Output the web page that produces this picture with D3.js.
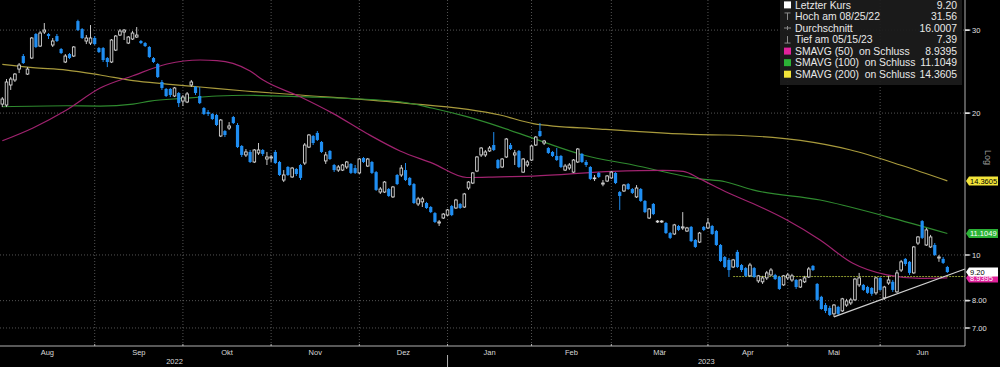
<!DOCTYPE html>
<html>
<head>
<meta charset="utf-8">
<script src="https://cdn.jsdelivr.net/npm/d3@7"></script>
<style>
html, body { margin: 0; padding: 0; background: #000; }
svg { display: block; font-family: "Liberation Sans", Arial, sans-serif; }
</style>
</head>
<body>
<svg id="chart"></svg>
<script>
// daily candles, trading day index 0 = first bar on the left
let opens = [20.90,20.80,22.94,23.51,24.80,26.43,24.20,26.17,29.43,27.75,29.72,29.43,27.89,29.14,27.35,25.67,26.69,26.43,31.35,30.15,
28.44,28.16,28.86,27.48,27.48,26.17,25.67,27.21,29.28,29.72,28.16,28.72,29.00,28.44,28.16,27.62,26.17,25.42,23.28,22.50,
22.50,21.74,22.06,21.21,21.11,22.94,22.72,21.74,20.50,20.10,19.91,19.81,17.88,18.32,18.59,19.62,18.87,17.03,16.30,16.54,
15.75,16.46,16.70,15.98,16.06,16.54,15.75,14.42,15.37,14.64,15.22,15.52,15.67,16.94,17.88,18.15,17.37,15.83,16.62,15.52,
15.14,15.14,15.37,15.60,15.29,14.93,16.06,15.44,15.75,14.99,13.60,13.60,13.80,13.28,14.78,14.78,15.14,14.57,14.14,12.83,
12.96,12.89,12.64,12.27,11.69,11.98,12.15,12.70,12.58,12.83,12.64,13.87,14.21,15.07,16.30,16.30,16.62,17.11,15.90,15.37,
16.14,17.11,16.30,16.62,14.99,15.52,15.90,17.11,18.32,17.28,16.86,16.54,16.22,16.22,15.14,15.29,14.99,15.75,16.38,15.75,
15.37,14.53,14.93,14.14,14.35,14.57,14.93,13.60,13.67,14.14,13.80,13.28,13.80,13.02,11.98,12.83,11.75,11.75,11.69,11.13,
11.08,11.52,11.41,11.24,11.47,10.76,10.65,11.47,11.41,11.52,11.24,10.50,9.90,9.76,9.43,10.15,9.52,9.38,9.03,9.38,
8.81,8.77,8.94,9.07,9.07,8.98,8.64,8.94,8.85,8.85,8.55,8.77,8.98,9.48,8.68,8.15,7.83,7.72,7.50,7.76,
7.61,7.83,7.91,8.03,8.64,8.64,8.55,8.51,8.31,8.94,8.11,8.72,8.77,8.35,9.29,9.81,9.67,9.16,10.60,11.80,
10.50,10.40,10.50,9.85,9.81,9.43];
let highs = [21.63,23.62,23.85,24.32,25.54,26.69,25.04,29.00,29.57,29.86,31.05,29.57,28.86,29.43,27.48,26.69,26.82,27.75,31.56,30.30,
29.28,30.75,29.14,27.62,27.62,26.30,28.72,29.28,30.15,30.15,29.14,29.86,30.45,28.58,28.30,27.75,26.30,25.54,23.51,22.61,
22.61,22.72,22.17,21.85,22.17,23.51,22.83,22.72,20.60,20.30,20.00,19.91,19.43,18.41,19.14,19.72,19.05,17.11,16.78,16.70,
16.78,17.28,16.78,16.54,16.30,16.70,15.83,15.14,15.44,15.37,15.29,15.60,17.28,18.06,17.97,18.32,17.45,16.54,16.70,15.60,
15.52,15.60,15.83,15.67,15.52,16.06,16.14,16.06,15.83,15.07,13.94,14.35,13.87,14.01,14.85,15.52,15.67,14.64,14.21,13.28,
13.28,12.96,12.70,12.33,11.86,12.27,12.52,12.77,13.15,12.89,13.54,14.35,14.99,16.22,16.94,16.70,17.03,18.23,15.98,16.06,
17.71,17.28,16.70,16.70,16.06,15.90,17.11,17.88,19.05,17.54,16.94,16.62,16.86,16.30,15.60,15.67,15.98,16.86,16.46,15.90,
15.44,14.78,14.99,14.42,14.78,15.07,14.99,13.67,14.14,14.21,13.87,14.07,13.87,13.08,12.58,12.89,11.86,11.86,11.75,11.19,
11.64,11.58,12.33,11.47,11.52,10.81,11.19,11.52,11.98,11.58,11.30,10.55,9.95,9.85,9.81,10.25,9.57,9.43,9.62,9.43,
9.07,9.03,9.25,9.38,9.12,9.03,9.07,9.16,9.12,8.89,8.89,9.03,9.43,9.52,8.72,8.19,7.91,7.80,7.87,7.80,
8.11,8.07,8.11,8.94,9.16,8.68,8.60,8.55,8.98,8.98,8.60,9.03,8.85,9.29,9.76,9.85,9.71,10.45,10.97,11.86,
11.41,11.03,10.60,10.00,9.90,9.48];
let lows = [20.60,20.60,22.39,23.28,24.32,25.42,24.09,26.04,27.48,27.62,29.43,28.72,27.62,28.30,26.69,25.54,26.04,26.30,29.86,28.72,
28.02,27.89,27.89,26.82,25.67,25.04,25.54,27.08,29.14,28.58,28.02,28.58,28.86,28.02,27.62,26.17,25.54,23.74,22.39,21.63,
21.63,21.63,20.60,20.70,21.00,22.72,21.85,20.90,19.81,19.72,19.33,18.77,17.79,17.79,18.41,18.96,16.86,16.14,16.14,15.67,
15.67,16.30,16.22,15.52,15.75,15.60,14.71,14.28,14.71,14.57,14.71,14.42,15.52,16.86,17.11,17.45,16.46,15.60,15.90,15.00,
15.00,15.07,15.22,14.85,14.85,14.85,15.67,15.37,14.85,13.67,13.47,13.54,13.28,13.21,14.07,14.64,14.35,14.01,12.83,12.70,
12.64,12.52,12.27,11.69,11.52,11.92,12.09,12.09,12.52,12.52,12.58,13.74,14.14,14.99,16.14,16.14,16.54,16.62,15.22,15.29,
16.06,16.70,15.52,15.29,14.93,15.37,15.83,17.03,17.79,17.11,16.38,16.14,15.83,15.29,15.07,15.14,14.93,15.67,15.67,15.37,
14.42,14.35,14.57,13.99,14.28,14.50,14.14,12.46,13.60,13.74,13.47,13.21,12.96,12.27,11.92,12.15,11.69,11.69,11.08,10.81,
11.03,11.24,11.30,11.19,10.65,10.35,10.60,11.24,11.35,11.03,10.45,9.66,9.38,8.98,9.38,9.38,9.20,8.98,8.98,8.94,
8.72,8.68,8.85,9.03,8.85,8.43,8.60,8.85,8.77,8.47,8.51,8.72,8.94,9.25,7.99,7.65,7.53,7.42,7.39,7.46,
7.57,7.76,7.83,7.99,8.55,8.39,8.27,8.19,8.23,8.39,8.03,8.64,8.35,8.31,9.20,9.48,9.07,9.12,10.50,10.81,
10.45,10.35,9.95,9.67,9.57,9.16];
let closes = [21.42,23.28,23.62,24.20,25.29,25.54,24.80,28.86,27.62,29.57,30.00,29.14,28.44,28.44,26.82,26.43,26.17,27.62,30.00,28.86,
28.86,28.86,28.02,26.95,25.92,25.67,28.58,29.14,29.86,30.00,29.00,29.57,29.28,28.16,27.75,26.30,25.67,23.85,22.61,21.74,
21.85,22.61,21.00,21.63,21.96,23.28,22.06,21.00,19.91,19.91,19.43,18.87,19.33,17.97,18.78,19.05,16.94,16.30,16.54,15.75,
16.70,16.70,16.38,16.14,16.14,15.67,14.78,14.78,14.78,15.29,14.85,14.57,17.11,17.97,17.28,17.54,16.54,16.30,15.98,15.14,
15.37,15.52,15.75,14.93,14.93,15.98,15.75,15.98,14.93,13.74,13.80,14.28,13.34,13.94,14.14,15.29,14.42,14.07,12.89,13.15,
13.15,12.58,12.33,11.75,11.75,12.21,12.46,12.15,13.08,12.58,13.47,14.28,14.93,16.14,16.86,16.54,16.86,16.70,15.29,15.98,
17.62,16.78,16.46,15.37,15.98,15.75,17.03,17.79,17.88,17.45,16.46,16.22,15.90,15.37,15.44,15.52,15.90,16.78,15.75,15.52,
14.50,14.57,14.64,14.21,14.71,14.99,14.21,13.34,14.07,13.80,13.54,13.87,13.02,12.33,12.52,12.21,11.80,11.80,11.13,10.87,
11.58,11.30,11.47,11.41,10.70,10.40,11.13,11.30,11.69,11.08,10.50,9.71,9.43,9.29,9.76,9.43,9.29,9.03,9.52,8.98,
9.03,8.94,9.16,9.29,8.89,8.47,9.03,9.07,9.03,8.55,8.85,8.94,9.34,9.29,8.03,7.68,7.61,7.46,7.83,7.50,
8.07,7.99,8.03,8.89,8.94,8.43,8.31,8.27,8.94,8.43,8.55,8.85,8.43,9.16,9.67,9.57,9.16,10.40,10.92,10.87,
11.30,10.92,10.00,9.90,9.62,9.20];

// moving averages at sample bars
let sma50Idx = [0, 7.3, 15.3, 23.3, 31.1, 39.2, 47.1, 51.1, 54.9, 59, 62.1, 70.9, 78.7, 86.8, 94.7, 102.5, 110.6, 118.5, 126.4, 145.4, 157.3, 162.1, 166.1, 172.1, 178.7, 186.8, 194.7, 202.5, 210.6, 218.5, 225];
let sma50Val = [17.47, 18.6, 20.3, 22.6, 24.0, 25.42, 25.92, 25.85, 25.5, 24.56, 23.5, 21.66, 19.97, 18.1, 16.62, 15.64, 14.6, 14.65, 14.7, 15.05, 15.12, 15.05, 14.5, 13.63, 12.86, 11.86, 10.76, 9.6, 9.07, 8.92, 8.9395];
let sma100Idx = [0, 15.3, 23.3, 31.1, 35.2, 43, 51.1, 57.8, 70.9, 94.7, 102.5, 110.6, 118.5, 126.4, 138.3, 150.2, 166.1, 172.1, 178.7, 194.7, 210.6, 225];
let sma100Val = [20.63, 20.73, 20.7, 20.9, 21.21, 21.49, 21.74, 21.82, 21.67, 21.14, 20.48, 19.65, 18.7, 17.68, 16.3, 15.52, 14.5, 14.3, 13.74, 13.08, 12.06, 11.1049];
let sma200Idx = [0, 7.3, 15.3, 23.3, 31.1, 39.2, 47.1, 57.8, 70.9, 94.7, 118.5, 126.4, 142.3, 166.1, 172.1, 190, 202, 214, 225];
let sma200Val = [25.38, 24.98, 24.68, 24.09, 23.43, 23.05, 22.72, 22.28, 21.85, 21.05, 19.81, 19.0, 18.5, 18.0, 17.97, 17.5, 16.7, 15.5, 14.3605];

// support line drawn from the May low, and the flat line at 9.00
let trendIdx = [198, 229.2];
let trendVal = [7.39, 9.34];
let levelIdx = [174, 229.2];
let levelVal = 9.0;

let monthNames = ['Aug', 'Sep', 'Okt', 'Nov', 'Dez', 'Jan', 'Feb', 'Mär', 'Apr', 'Mai', 'Jun'];
let monthStarts = [22, 43, 64, 85, 106, 126, 145, 168, 187, 209];
let yearNames = ['2022', '2023'];
let yearCenters = [41, 167.6];

let yTicks = [30, 20, 10, 8, 7];
let yTickText = ['30', '20', '10', '8.00', '7.00'];

let legendLabels = ['Letzter Kurs', 'Hoch am 08/25/22', 'Durchschnitt', 'Tief am 05/15/23', 'SMAVG (50)  on Schluss', 'SMAVG (100)  on Schluss', 'SMAVG (200)  on Schluss'];
let legendValues = ['9.20', '31.56', '16.0007', '7.39', '8.9395', '11.1049', '14.3605'];
let legendIcons = ['box', 'high', 'avg', 'low', 'box', 'box', 'box'];
let legendColors = ['#ffffff', '#8a8a8a', '#8a8a8a', '#8a8a8a', '#e0229b', '#2bb236', '#f2e43a'];

let tagValues = [14.3605, 11.1049, 8.9395, 9.20];
let tagText = ['14.3605', '11.1049', '8.9395', '9.20'];
let tagFill = ['#f2e43a', '#2bb236', '#e0229b', '#ffffff'];
let tagInk = ['#000', '#fff', '#fff', '#000'];

let width = 1000;
let height = 367;
let plotRight = 965;
let plotBottom = 346;

let svg = d3.select('#chart').attr('width', width).attr('height', height);
svg.append('rect').attr('width', width).attr('height', height).attr('fill', '#000');

let x = d3.scaleLinear().domain([-0.55, 229.2]).range([0, plotRight]);
let y = d3.scaleLog().domain([6.41, 34.75]).range([plotBottom, 0]);

/* grid */
let grid = svg.append('g');
grid.selectAll('.vg').data(monthStarts).enter().append('line')
    .attr('x1', d => x(d)).attr('x2', d => x(d))
    .attr('y1', 0).attr('y2', plotBottom)
    .attr('stroke', '#6a6a6a').attr('stroke-width', 0.8).attr('stroke-dasharray', '1,2');
grid.selectAll('.hg').data(yTicks).enter().append('line')
    .attr('x1', 0).attr('x2', plotRight)
    .attr('y1', d => y(d)).attr('y2', d => y(d))
    .attr('stroke', '#6a6a6a').attr('stroke-width', 0.8).attr('stroke-dasharray', '1,2');
grid.append('line')
    .attr('x1', x(levelIdx[0])).attr('x2', x(levelIdx[1]))
    .attr('y1', y(levelVal)).attr('y2', y(levelVal))
    .attr('stroke', '#8e9a30').attr('stroke-width', 1).attr('stroke-dasharray', '2,1');

/* moving averages */
let maLine = d3.line().x(d => x(d[0])).y(d => y(d[1])).curve(d3.curveMonotoneX);
let mas = [
    [d3.zip(sma200Idx, sma200Val), '#a89a3c'],
    [d3.zip(sma100Idx, sma100Val), '#2f8a2f'],
    [d3.zip(sma50Idx, sma50Val), '#a0236f']
];
mas.forEach(m => {
    svg.append('path').attr('d', maLine(m[0]))
        .attr('fill', 'none').attr('stroke', m[1]).attr('stroke-width', 1.2);
});

/* candles */
let bars = opens.map((o, i) => ({i: i, o: o, h: highs[i], l: lows[i], c: closes[i]}));
let blue = '#1f8ef2';
let cg = svg.append('g');
cg.selectAll('.wick').data(bars).enter().append('line')
    .attr('x1', d => x(d.i)).attr('x2', d => x(d.i))
    .attr('y1', d => y(d.h)).attr('y2', d => y(d.l))
    .attr('stroke', d => d.c >= d.o ? '#c8c8c8' : blue).attr('stroke-width', 1);
cg.selectAll('.body').data(bars).enter().append('rect')
    .attr('x', d => d.c >= d.o ? x(d.i) - 1.3 : x(d.i) - 1.6)
    .attr('width', d => d.c >= d.o ? 2.6 : 3.2)
    .attr('y', d => y(Math.max(d.o, d.c)))
    .attr('height', d => Math.max(0.8, Math.abs(y(d.o) - y(d.c))))
    .attr('fill', d => d.c >= d.o ? '#000' : blue)
    .attr('stroke', d => d.c >= d.o ? '#d8d8d8' : 'none')
    .attr('stroke-width', 0.9);

/* trend line */
svg.append('line')
    .attr('x1', x(trendIdx[0])).attr('y1', y(trendVal[0]))
    .attr('x2', x(trendIdx[1])).attr('y2', y(trendVal[1]))
    .attr('stroke', '#d0d0d0').attr('stroke-width', 1.2);

/* frame and x axis */
svg.append('line').attr('x1', 0).attr('x2', plotRight).attr('y1', plotBottom).attr('y2', plotBottom)
    .attr('stroke', '#b0b0b0').attr('stroke-width', 1);
svg.append('line').attr('x1', plotRight).attr('x2', plotRight).attr('y1', 0).attr('y2', plotBottom)
    .attr('stroke', '#b0b0b0').attr('stroke-width', 1);
svg.selectAll('.xt').data(monthStarts).enter().append('line')
    .attr('x1', d => x(d)).attr('x2', d => x(d))
    .attr('y1', plotBottom - 2).attr('y2', plotBottom)
    .attr('stroke', '#b0b0b0');

let bounds = [x.domain()[0]].concat(monthStarts, [x.domain()[1]]);
svg.selectAll('.mt').data(d3.pairs(bounds)).enter().append('text')
    .attr('x', (d, i) => x((d[0] + d[1]) / 2)).attr('y', 354.5)
    .attr('text-anchor', 'middle').attr('fill', '#d8d8d8').attr('font-size', 7.5)
    .text((d, i) => monthNames[i]);
svg.selectAll('.yt').data(yearCenters).enter().append('text')
    .attr('x', d => x(d)).attr('y', 363.5)
    .attr('text-anchor', 'middle').attr('fill', '#d8d8d8').attr('font-size', 7.5)
    .text((d, i) => yearNames[i]);
svg.append('line').attr('x1', x(monthStarts[4])).attr('x2', x(monthStarts[4]))
    .attr('y1', 355).attr('y2', 367).attr('stroke', '#b0b0b0');

/* y axis on the right */
let yg = svg.append('g');
yTicks.forEach((t, i) => {
    yg.append('path')
        .attr('d', `M${plotRight},${y(t) - 0.8}h4l2,0.8l-2,0.8h-4z`)
        .attr('fill', '#e0e0e0');
    yg.append('text').attr('x', plotRight + 7).attr('y', y(t) + 2.7)
        .attr('fill', '#e0e0e0').attr('font-size', 7.5).text(yTickText[i]);
});
svg.append('text').attr('transform', 'translate(985,150) rotate(90)')
    .attr('fill', '#9a9a9a').attr('font-size', 9).text('Log');

/* value tags */
tagValues.forEach((v, i) => {
    let cy = y(v);
    svg.append('path')
        .attr('d', `M${plotRight + 1},${cy} l3,-4.5 h29 v9 h-29 z`)
        .attr('fill', tagFill[i]);
    svg.append('text').attr('x', plotRight + 5).attr('y', cy + 2.7)
        .attr('fill', tagInk[i]).attr('font-size', 7.5).text(tagText[i]);
});

/* legend */
let lg = svg.append('g');
lg.append('rect').attr('x', 780).attr('y', -1).attr('width', 182).attr('height', 86)
    .attr('fill', '#1c1c1c').attr('fill-opacity', 0.92);
legendLabels.forEach((lab, i) => {
    let by = 8.7 + i * 11.55;
    let cy = by - 3.8;
    let col = legendColors[i];
    if (legendIcons[i] === 'box') {
        lg.append('rect').attr('x', 784).attr('y', cy - 3.5).attr('width', 7).attr('height', 7).attr('fill', col);
    } else if (legendIcons[i] === 'high') {
        lg.append('path').attr('d', `M784.5,${cy - 3.5}h6M787.5,${cy - 3.5}v7`).attr('stroke', col).attr('fill', 'none');
    } else if (legendIcons[i] === 'avg') {
        lg.append('path').attr('d', `M784,${cy}h7M787.5,${cy - 2}v4`).attr('stroke', col).attr('fill', 'none');
    } else {
        lg.append('path').attr('d', `M784.5,${cy + 3.5}h6M787.5,${cy + 3.5}v-7`).attr('stroke', col).attr('fill', 'none');
    }
    lg.append('text').attr('x', 795).attr('y', by).attr('fill', '#e8e8e8')
        .attr('font-size', 10.4).style('white-space', 'pre').text(lab);
    lg.append('text').attr('x', 957).attr('y', by).attr('fill', '#e8e8e8')
        .attr('font-size', 10.4).attr('text-anchor', 'end').text(legendValues[i]);
});
</script>
</body>
</html>
